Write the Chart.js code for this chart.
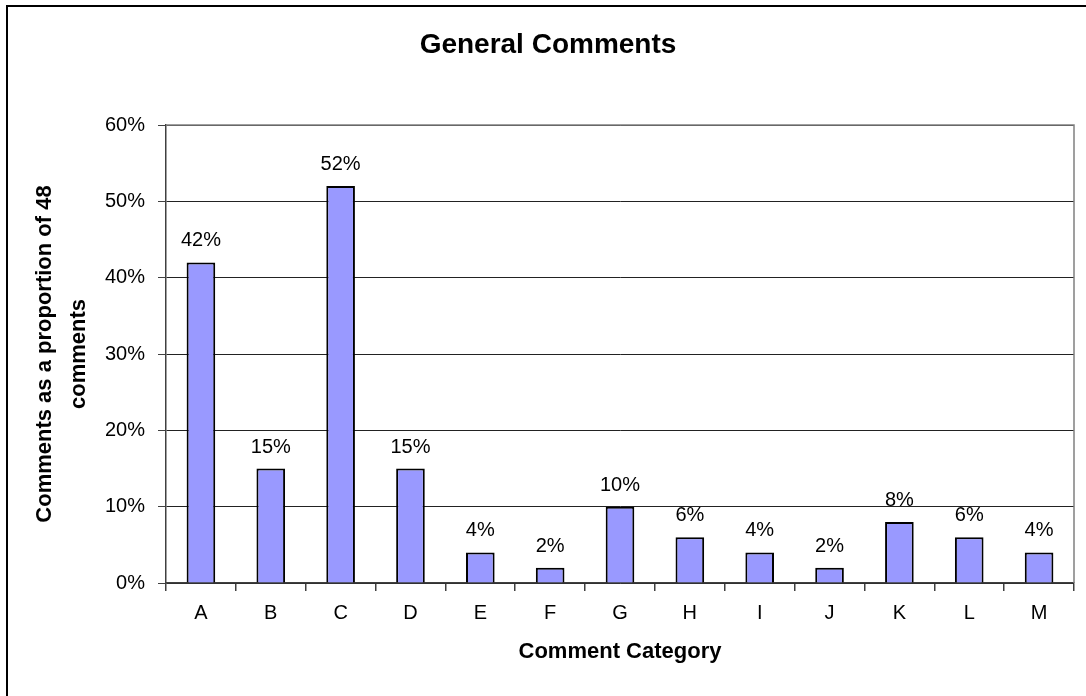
<!DOCTYPE html>
<html>
<head>
<meta charset="utf-8">
<script src="https://cdn.jsdelivr.net/npm/chart.js@4/dist/chart.umd.min.js"></script>
<style>
  html, body { margin: 0; padding: 0; background: #fff; }
  #wrap { width: 1086px; height: 696px; }
</style>
</head>
<body>
<div id="wrap"><canvas id="chart" width="1086" height="696"></canvas></div>
<script>
const categories = ["A", "B", "C", "D", "E", "F", "G", "H", "I", "J", "K", "L", "M"];
const percentValues = [42, 15, 52, 15, 4, 2, 10, 6, 4, 2, 8, 6, 4];
const yTicks = [0, 10, 20, 30, 40, 50, 60];

const FONT = "'Liberation Sans', Arial, sans-serif";

// value labels above each bar
const barLabels = {
  id: "barLabels",
  afterDatasetsDraw(chart) {
    const ctx = chart.ctx;
    const meta = chart.getDatasetMeta(0);
    ctx.save();
    ctx.font = "20px " + FONT;
    ctx.fillStyle = "#000";
    ctx.textAlign = "center";
    ctx.textBaseline = "alphabetic";
    meta.data.forEach(function(bar, i) {
      ctx.fillText(percentValues[i] + "%", bar.x, bar.y - 16);
    });
    ctx.restore();
  }
};

// plot area border + outer chart frame
const frames = {
  id: "frames",
  beforeDatasetsDraw(chart) {
    const a = chart.chartArea;
    const ctx = chart.ctx;
    ctx.save();
    ctx.strokeStyle = "#808080";
    ctx.lineWidth = 1.5;
    ctx.beginPath();
    ctx.moveTo(a.left, a.top);
    ctx.lineTo(a.right, a.top);
    ctx.lineTo(a.right, a.bottom);
    ctx.stroke();
    ctx.restore();
  },
  afterDraw(chart) {
    const ctx = chart.ctx;
    ctx.save();
    ctx.strokeStyle = "#000";
    ctx.lineWidth = 2;
    ctx.beginPath();
    ctx.moveTo(7, 700);
    ctx.lineTo(7, 6);
    ctx.lineTo(1090, 6);
    ctx.stroke();
    ctx.restore();
  }
};

const chart = new Chart(document.getElementById("chart").getContext("2d"), {
  type: "bar",
  data: {
    labels: categories,
    datasets: [{
      data: percentValues,
      backgroundColor: "#9999FF",
      borderColor: "#000",
      borderWidth: 2,
      borderSkipped: "bottom",
      categoryPercentage: 1,
      barPercentage: 0.41
    }]
  },
  options: {
    responsive: false,
    animation: false,
    layout: { padding: { left: 22, right: 12, top: 0, bottom: 0 } },
    plugins: {
      legend: { display: false },
      tooltip: { enabled: false },
      title: {
        display: true,
        text: "General Comments",
        color: "#000",
        font: { family: FONT, size: 28, weight: "bold" },
        padding: { top: 28, bottom: 63.4 }
      }
    },
    scales: {
      x: {
        grid: {
          offset: true,
          drawOnChartArea: false,
          drawTicks: true,
          tickLength: 8,
          tickColor: "#404040",
          lineWidth: 1.5
        },
        border: { color: "#404040", width: 1.5 },
        ticks: {
          color: "#000",
          padding: 10,
          font: { family: FONT, size: 20 }
        },
        title: {
          display: true,
          text: "Comment Category",
          color: "#000",
          font: { family: FONT, size: 22, weight: "bold" },
          padding: { top: 0, bottom: 31 }
        },
        afterFit(scale) { scale.height = 113; }
      },
      y: {
        min: 0,
        max: 60,
        afterBuildTicks(scale) {
          scale.ticks = yTicks.map(function(v) { return { value: v }; });
        },
        grid: {
          color: "#222",
          lineWidth: 1,
          tickLength: 8,
          tickColor: "#404040"
        },
        border: { color: "#404040", width: 1.5 },
        ticks: {
          color: "#000",
          padding: 13,
          font: { family: FONT, size: 20 },
          callback: function(v) { return v + "%"; }
        },
        title: {
          display: true,
          text: ["Comments as a proportion of 48", "comments"],
          color: "#000",
          font: { family: FONT, size: 22, weight: "bold", lineHeight: 1.55 },
          padding: { top: 6, bottom: 0 }
        },
        afterFit(scale) { scale.width = 144; }
      }
    }
  },
  plugins: [barLabels, frames]
});
</script>
</body>
</html>
